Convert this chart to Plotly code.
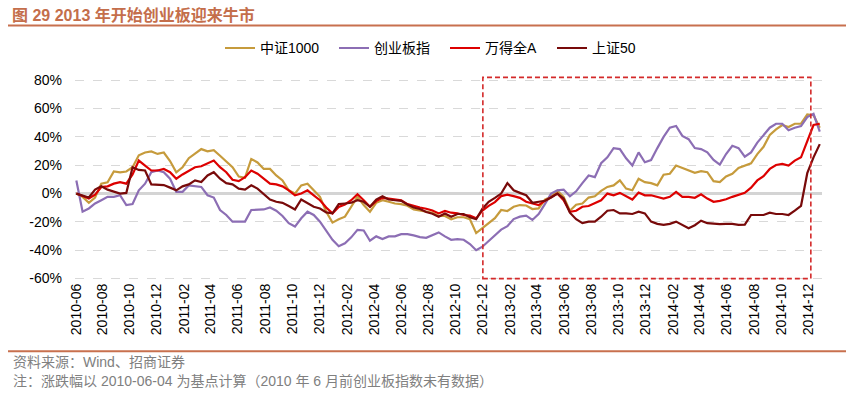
import pandas as pd
import plotly.graph_objects as go

# ---------------- data (percent change since 2010-06-04, biweekly) ----------------
start_date = "2010-06-04"
n_points = 120
dates = pd.date_range(start_date, periods=n_points, freq="14D")

zz1000 = [0, -2.3, -6.5, -2.8, 7, 8, 15.6, 15, 15.6, 18.6,
          27, 29, 29.8, 28, 29, 23, 15, 18.6, 25, 28.4,
          31.4, 29.8, 30.7, 26.7, 22.8, 18.6, 12, 11.2, 24.4, 22,
          17.4, 17.4, 12.8, 9.3, 2.3, 0, 5.8, 7, 2.3, -2.3,
          -12.8, -20.5, -18.1, -16.3, -9.3, -2.3, -8.1, -12.8, -6.5, -4.7,
          -5.8, -7, -7.4, -8.6, -11.2, -12.1, -12.8, -13.5, -15.8, -15.8,
          -18.1, -16.7, -16.7, -18.1, -27.9, -24.4, -20.9, -17.4, -11.6, -12.3,
          -9.3, -8.1, -8.4, -10.9, -10.5, -4.2, -2.3, 1.9, -2.3, -12.1,
          -7.9, -7, -2.8, -1.9, 1.9, 4.7, 5.8, 9.3, 3.5, 2.3,
          10.5, 8.1, 7.4, 5.8, 13.3, 14, 19.8, 18.1, 16.7, 14.7,
          15.8, 15.1, 8.8, 8.1, 12.1, 14, 18.1, 19.5, 21.4, 27.9,
          33, 41.4, 45.3, 48.4, 47, 49.3, 49.3, 55.8, 55.3, 46.5]

cyb = [9.3, -12.8, -10.5, -7, -4.7, -2.3, -2.3, -1.2, -8.1, -7.4,
       2.3, 7, 15.1, 16.3, 15.1, 10.5, 1.2, 1.2, 5.8, 5.1,
       4.7, -1.2, -2.8, -11.6, -15.1, -19.8, -19.8, -19.8, -11.6, -11.6,
       -11.2, -9.8, -12.1, -15.8, -20.9, -23.3, -17.4, -12.8, -15.1, -19.8,
       -26, -32.6, -37.2, -35.1, -30.9, -25.6, -26, -33.3, -30.2, -32.1,
       -30.2, -30.2, -28.6, -28.6, -29.5, -30.7, -31.2, -29.1, -27.4, -30.2,
       -32.6, -32.1, -32.6, -35.6, -40, -37.5, -33.5, -30, -25.4, -23,
       -18, -16.3, -15.6, -18.6, -14.4, -7.4, 0, 2.3, 2.8, -1.9,
       1.6, 7.4, 12.8, 11.6, 21.4, 25.6, 32.1, 31.4, 24.9, 19.8,
       29.1, 22.1, 23.7, 32.1, 40, 46.5, 47.7, 40.7, 38.4, 32.1,
       31.4, 29.1, 23.7, 20.5, 27.9, 33.7, 32.1, 26, 29.1, 36,
       41.4, 46.5, 49.3, 49.3, 44.7, 46.5, 47.7, 54, 56.3, 43.7]

wind_a = [0, -1.6, -3.5, -0.7, 4.7, 5.1, 7, 8.1, 7, 13.5,
          23.3, 19.8, 16.3, 16.3, 17.4, 15.1, 10.5, 13.5, 15.8, 18.6,
          19.3, 21.4, 23.3, 18.6, 15.1, 9.8, 8.8, 11.6, 16.3, 14,
          10.5, 7, 6.5, 5.1, 2.3, -1.2, 0, 2.3, -1.2, -4.7,
          -9.8, -14, -9.5, -7.7, -4.7, -0.5, -4.7, -9.3, -5.3, -3,
          -3.5, -4.2, -4.7, -7.4, -8.8, -9.8, -10.7, -11.9, -14, -12.3,
          -13.5, -14, -15.1, -15.6, -17.5, -12, -8.7, -6, -1.8, -0.8,
          -1.8, -3, -5.8, -7, -8.1, -5.1, -2.3, 0, -4.7, -12.8,
          -12.1, -9.3, -8.8, -7, -4.7, 0, -1.2, 0.5, -1.9, -4.2,
          0.7, -1.2, -1.2, -2.3, -3.5, -2.3, 1.2, -2.3, -2.3, -3,
          -0.5, -3.5, -5.8, -5.1, -4, -2.3, -0.7, 0.5, 4.2, 9.3,
          12.3, 17.4, 20.2, 20.9, 19.8, 23.3, 25.6, 37.2, 48.4, 49.3]

sz50 = [0, -1.2, -2.8, 2.8, 5.1, 2.8, 1.2, 0, 0.5, 18.6,
        16.7, 16.3, 6.5, 6.5, 6, 4.2, 2.3, 5.1, 6.5, 9.3,
        8.1, 12.8, 15.1, 10.5, 7.4, 6.5, 3.5, 2.8, 5.8, 3.5,
        -0.5, -4.2, -5.8, -6.5, -8.8, -11.2, -4.2, -6.5, -9.3, -10.5,
        -13.3, -14, -7.4, -7, -6.5, -4.7, -5.8, -9.3, -4.2, -1.9,
        -4.2, -4.7, -5.1, -7.7, -9.8, -10.9, -13, -14.2, -16.3, -14,
        -16.3, -14.4, -14.4, -16.7, -18.1, -10.7, -5.8, -3, 0, 7.4,
        2.3, 0.5, -1.2, -6.5, -6, -5.1, -2.8, 0, -3.5, -13.5,
        -18.1, -20.9, -19.8, -19.8, -16.3, -12.1, -11.6, -14, -14, -14.4,
        -12.8, -14, -19.8, -21.4, -22.1, -21.4, -19.8, -22.1, -24.4, -22.3,
        -19.1, -20.9, -21.4, -21.6, -21.4, -21.4, -22.1, -21.9, -15.1, -15.3,
        -15.1, -13.5, -14.4, -14.4, -15.1, -12.1, -8.6, 14.4, 25.6, 34.9]

series_names = ["中证1000", "创业板指", "万得全A", "上证50"]
series_colors = ["#C69B3C", "#8C6EB4", "#DD0000", "#780A0A"]
legend_widths = [69, 66, 62, 45]

y_tickvals = [-60, -40, -20, 0, 20, 40, 60, 80]
y_ticktext = ["-60%", "-40%", "-20%", "0%", "20%", "40%", "60%", "80%"]

x_tickvals = [pd.Timestamp("2010-06-04")] + list(pd.date_range("2010-08-01", "2014-12-01", freq="2MS"))
x_ticktext = [d.strftime("%Y-%m") for d in x_tickvals]

highlight_x = ["2012-12-01", "2014-12-06"]
highlight_y = [-60, 82]

title_text = "图 29 2013 年开始创业板迎来牛市"
source_text = "资料来源：Wind、招商证券"
note_text = "注：涨跌幅以 2010-06-04 为基点计算（2010 年 6 月前创业板指数未有数据）"

# ---------------- figure ----------------
W, H = 853, 396
L, R, T, B = 75, 822, 75.7, 280.4
FONT = "Liberation Sans, Arial, Noto Sans CJK SC, sans-serif"


def px_x(x):
    return (x - L) / (R - L)


def px_y(y):
    return (B - y) / (B - T)


fig = go.Figure()
for name, vals, col, lw in zip(series_names, [zz1000, cyb, wind_a, sz50], series_colors, legend_widths):
    fig.add_trace(go.Scatter(x=dates, y=vals, name=name, mode="lines", legendwidth=lw,
                             line=dict(color=col, width=2.2)))

fig.add_shape(type="rect", xref="x", yref="y",
              x0=highlight_x[0], x1=highlight_x[1], y0=highlight_y[0], y1=highlight_y[1],
              line=dict(color="#D42A2A", width=1.6, dash="5px,3px"), layer="above")

# title underline and footer line
fig.add_shape(type="line", xref="paper", yref="paper",
              x0=px_x(8), x1=px_x(846), y0=px_y(25), y1=px_y(25),
              line=dict(color="#C8704E", width=2))
fig.add_shape(type="line", xref="paper", yref="paper",
              x0=px_x(8), x1=px_x(846), y0=px_y(352), y1=px_y(352),
              line=dict(color="#C8704E", width=2))

fig.add_annotation(text="<b>" + title_text + "</b>", xref="paper", yref="paper",
                   x=px_x(10), y=px_y(14), xanchor="left", yanchor="middle",
                   showarrow=False, font=dict(size=16, color="#C46E4B", family=FONT))
fig.add_annotation(text=source_text, xref="paper", yref="paper",
                   x=px_x(11), y=px_y(363), xanchor="left", yanchor="middle",
                   showarrow=False, font=dict(size=14, color="#808080", family=FONT))
fig.add_annotation(text=note_text, xref="paper", yref="paper",
                   x=px_x(11), y=px_y(382), xanchor="left", yanchor="middle",
                   showarrow=False, font=dict(size=14, color="#808080", family=FONT))

fig.update_layout(
    width=W, height=H,
    margin=dict(l=L, r=W - R, t=T, b=H - B, pad=0, autoexpand=False),
    paper_bgcolor="white", plot_bgcolor="white",
    font=dict(family=FONT, size=14, color="#000000"),
    showlegend=True,
    legend=dict(orientation="h", xref="paper", yref="paper",
                x=px_x(220), xanchor="left", y=px_y(48), yanchor="middle",
                font=dict(size=14, color="#000000"), bgcolor="rgba(0,0,0,0)",
                borderwidth=0),
    xaxis=dict(type="date", range=["2010-06-01", "2014-12-31"],
               tickvals=x_tickvals, ticktext=x_ticktext, tickangle=-90,
               showgrid=False, showline=False, zeroline=False, ticks="",
               tickfont=dict(size=14, color="#000000")),
    yaxis=dict(range=[-61, 83], tickvals=y_tickvals, ticktext=y_ticktext,
               showgrid=True, gridcolor="#D9D9D9", griddash="dash", gridwidth=1,
               zeroline=True, zerolinecolor="#D4D4D4", zerolinewidth=2.5,
               showline=False, ticks="", ticklabelstandoff=12,
               tickfont=dict(size=14, color="#000000")),
)

fig.write_html("out.html", config={"displayModeBar": False},
               post_script="document.body.style.margin='0';document.body.style.overflow='hidden';")
